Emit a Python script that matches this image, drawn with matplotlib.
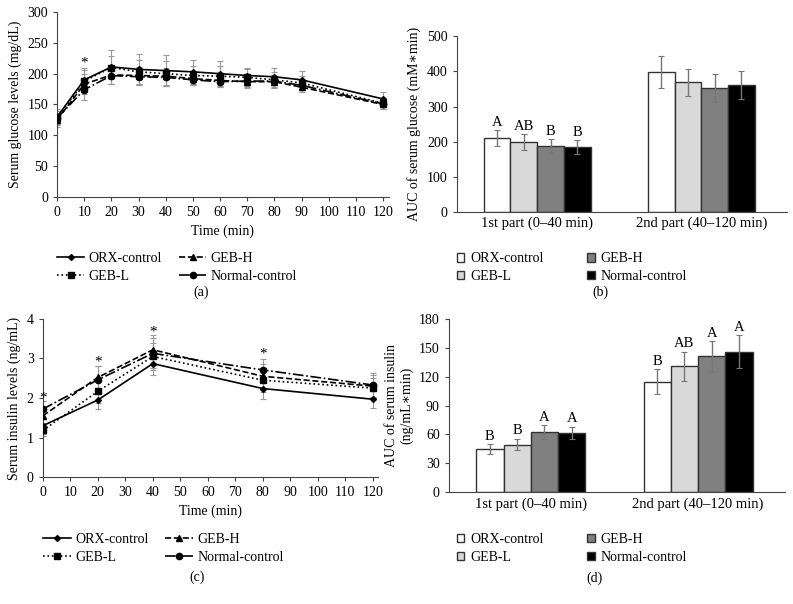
import numpy as np
import matplotlib
matplotlib.use("Agg")
from matplotlib import pyplot as plt

plt.rcParams['font.family'] = ['Liberation Serif', 'DejaVu Serif']
plt.rcParams['font.size'] = 9

groups = ['ORX-control', 'GEB-L', 'GEB-H', 'Normal-control']

# (a) glucose tolerance
t_glu = [0, 10, 20, 30, 40, 50, 60, 70, 80, 90, 120]
glu_orx = [130, 190, 211, 207, 205, 203, 200, 197, 195, 190, 159]
glu_gebl = [128, 188, 210, 203, 200, 197, 196, 194, 190, 185, 152]
glu_gebh = [125, 183, 198, 197, 196, 192, 189, 187, 187, 178, 150]
glu_norm = [128, 174, 197, 195, 194, 190, 187, 188, 188, 181, 151]
glu_orx_err = [12, 20, 28, 25, 25, 19, 20, 13, 14, 14, 12]
glu_gebl_err = [12, 18, 18, 20, 20, 16, 16, 14, 13, 12, 9]
glu_gebh_err = [12, 16, 14, 14, 14, 10, 10, 10, 10, 8, 8]
glu_norm_err = [12, 17, 14, 14, 14, 8, 8, 10, 10, 8, 8]
glu_star_t = [10]
glu_star_y = [218]

# (b) glucose AUC
parts = ['1st part (0\u201340 min)', '2nd part (40\u2013120 min)']
auc_glu = [[210, 398], [200, 369], [187, 352], [184, 361]]
auc_glu_err = [[23, 45], [23, 38], [20, 40], [20, 39]]
auc_glu_lett = [['A', ''], ['AB', ''], ['B', ''], ['B', '']]

# (c) insulin
t_ins = [0, 20, 40, 80, 120]
ins_orx = [1.30, 1.95, 2.87, 2.24, 1.97]
ins_gebl = [1.18, 2.17, 3.05, 2.45, 2.25]
ins_gebh = [1.55, 2.52, 3.22, 2.55, 2.30]
ins_norm = [1.72, 2.46, 3.13, 2.71, 2.33]
ins_orx_err = [0.2, 0.22, 0.28, 0.27, 0.22]
ins_gebl_err = [0.15, 0.3, 0.35, 0.3, 0.25]
ins_gebh_err = [0.18, 0.3, 0.38, 0.3, 0.28]
ins_norm_err = [0.2, 0.35, 0.38, 0.28, 0.3]
ins_star_t = [0, 20, 40, 80]
ins_star_y = [2.0, 2.92, 3.66, 3.1]

# (d) insulin AUC
auc_ins = [[45, 115], [49.5, 131], [62.5, 141], [61.5, 146]]
auc_ins_err = [[5, 12.5], [6, 15], [7, 16], [6.5, 17]]
auc_ins_lett = [['B', 'B'], ['B', 'AB'], ['A', 'A'], ['A', 'A']]

line_styles = ['-', ':', '--', '-.']
markers = ['D', 's', '^', 'o']
msizes = [3, 4.5, 4.5, 4.5]
bar_colors = ['white', '#d9d9d9', '#808080', 'black']


def style_axes(ax):
    ax.spines['top'].set_visible(False)
    ax.spines['right'].set_visible(False)
    ax.spines['left'].set_color('#444444')
    ax.spines['bottom'].set_color('#444444')
    ax.tick_params(length=3, width=0.8, color='#444444', labelsize=10)


def line_panel(ax, t, series, errs, star_t, star_y):
    handles = []
    for i in range(4):
        ax.errorbar(t, series[i], yerr=errs[i], fmt='none', ecolor='#999999',
                    elinewidth=0.8, capsize=2, capthick=0.8, zorder=1)
        h, = ax.plot(t, series[i], color='black', ls=line_styles[i], lw=1.2,
                     marker=markers[i], ms=msizes[i], zorder=3)
        handles.append(h)
    for x, y in zip(star_t, star_y):
        ax.text(x, y, '*', ha='center', va='center', fontsize=11)
    ax.set_xlim(0, 122)
    ax.set_xticks(range(0, 121, 10))
    ax.set_xlabel('Time (min)', fontsize=10)
    style_axes(ax)
    return handles


def bar_panel(ax, vals, errs, letters, ylim, yticks, lett_off):
    x = np.arange(len(parts))
    w = 0.163
    handles = []
    for i in range(4):
        v = [vals[i][j] for j in range(len(parts))]
        e = [errs[i][j] for j in range(len(parts))]
        pos = x + (i - 1.5) * w
        b = ax.bar(pos, v, width=w, color=bar_colors[i], edgecolor='#333333',
                   linewidth=1.0, label=groups[i], zorder=2)
        ax.errorbar(pos, v, yerr=e, fmt='none', ecolor='#777777',
                    elinewidth=1.0, capsize=2, capthick=0.8, zorder=3)
        for j in range(len(parts)):
            if letters[i][j]:
                ax.text(pos[j], v[j] + e[j] + lett_off, letters[i][j],
                        ha='center', va='bottom', fontsize=10.5)
        handles.append(b)
    ax.set_xticks(x)
    ax.set_xticklabels(parts, fontsize=10.5)
    ax.set_xlim(-0.49, 1.52)
    ax.set_ylim(*ylim)
    ax.set_yticks(yticks)
    style_axes(ax)
    ax.tick_params(axis='x', length=0, labelsize=10.5)
    return handles


fig = plt.figure(figsize=(7.93, 6.04), dpi=100)

ax_a = fig.add_axes([0.072, 0.674, 0.418, 0.306])
h_a = line_panel(ax_a, t_glu, [glu_orx, glu_gebl, glu_gebh, glu_norm],
                 [glu_orx_err, glu_gebl_err, glu_gebh_err, glu_norm_err],
                 glu_star_t, glu_star_y)
ax_a.set_ylim(0, 300)
ax_a.set_yticks(range(0, 301, 50))
ax_a.set_ylabel('Serum glucose levels (mg/dL)', fontsize=10)

ax_b = fig.add_axes([0.576, 0.649, 0.416, 0.291])
h_b = bar_panel(ax_b, auc_glu, auc_glu_err, auc_glu_lett, (0, 500),
                range(0, 501, 100), 3)
ax_b.set_ylabel('AUC of serum glucose (mM\u2217min)', fontsize=10)

ax_c = fig.add_axes([0.054, 0.210, 0.423, 0.262])
h_c = line_panel(ax_c, t_ins, [ins_orx, ins_gebl, ins_gebh, ins_norm],
                 [ins_orx_err, ins_gebl_err, ins_gebh_err, ins_norm_err],
                 ins_star_t, ins_star_y)
ax_c.set_ylim(0, 4)
ax_c.set_yticks(range(0, 5))
ax_c.set_ylabel('Serum insulin levels (ng/mL)', fontsize=10)

ax_d = fig.add_axes([0.566, 0.185, 0.424, 0.287])
h_d = bar_panel(ax_d, auc_ins, auc_ins_err, auc_ins_lett, (0, 180),
                range(0, 181, 30), 1.5)
ax_d.set_ylabel('AUC of serum insulin\n(ng/mL\u2217min)', fontsize=10)

leg_kw = dict(ncol=2, frameon=False, fontsize=10, handlelength=2.0,
              columnspacing=1.2, labelspacing=0.35, handletextpad=0.3,
              loc='upper left', bbox_transform=fig.transFigure)
ax_a.legend(h_a, groups, bbox_to_anchor=(0.0557, 0.603), **leg_kw)
ax_c.legend(h_c, groups, bbox_to_anchor=(0.0387, 0.138), **leg_kw)
bar_kw = dict(leg_kw, handlelength=0.55, handleheight=0.55, handletextpad=0.45,
              columnspacing=3.1)
ax_b.legend(h_b, groups, bbox_to_anchor=(0.56, 0.603), **bar_kw)
ax_d.legend(h_d, groups, bbox_to_anchor=(0.56, 0.138), **bar_kw)

fig.text(0.253, 1 - 292 / 604, '(a)', ha='center', va='center', fontsize=10)
fig.text(0.757, 1 - 292 / 604, '(b)', ha='center', va='center', fontsize=10)
fig.text(0.248, 1 - 577 / 604, '(c)', ha='center', va='center', fontsize=10)
fig.text(0.750, 1 - 578 / 604, '(d)', ha='center', va='center', fontsize=10)

fig.savefig('out.png', dpi=100, facecolor='white')
